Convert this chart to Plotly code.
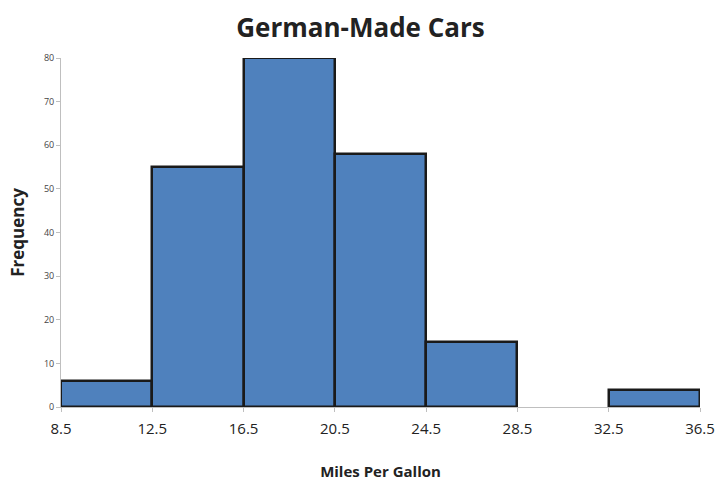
import plotly.graph_objects as go

bin_edges = [8.5, 12.5, 16.5, 20.5, 24.5, 28.5, 32.5, 36.5]
frequencies = [6, 55, 80, 58, 15, 0, 4]
tick_labels = ["8.5", "12.5", "16.5", "20.5", "24.5", "28.5", "32.5", "36.5"]

centers = [(bin_edges[i] + bin_edges[i + 1]) / 2 for i in range(len(frequencies))]
widths = [bin_edges[i + 1] - bin_edges[i] for i in range(len(frequencies))]
line_widths = [2.5 if f > 0 else 0 for f in frequencies]

fig = go.Figure(go.Bar(
    x=centers, y=frequencies, width=widths,
    marker=dict(color="#4F81BD", line=dict(color="#1a1a1a", width=line_widths)),
))

fig.update_layout(
    width=721, height=481,
    margin=dict(l=61, r=21, t=58, b=74),
    plot_bgcolor="white", paper_bgcolor="white",
    showlegend=False,
    font=dict(family="Open Sans, Lato, sans-serif", color="#222"),
    title=dict(text="<b>German-Made Cars</b>", x=0.5, xanchor="center",
               y=0.942, yanchor="middle", font=dict(size=26, color="#222")),
    bargap=0,
    xaxis=dict(range=[8.5, 36.5], tickvals=bin_edges, ticktext=tick_labels,
               automargin=False,
               showgrid=False, zeroline=False, showline=True, linecolor="#BFBFBF",
               linewidth=1, ticks="outside", ticklen=4, tickcolor="#BFBFBF",
               ticklabelstandoff=4,
               tickfont=dict(size=15, color="#222"),
               title=dict(text="<b>Miles Per Gallon</b>", font=dict(size=15, color="#222"),
                          standoff=38)),
    yaxis=dict(range=[0, 80], dtick=10, showgrid=False, zeroline=False,
               automargin=False,
               showline=True, linecolor="#BFBFBF", linewidth=1,
               ticks="outside", ticklen=4, tickcolor="#BFBFBF",
               tickfont=dict(size=9, color="#444"),
               title=dict(text="<b>Frequency</b>", font=dict(size=17, color="#222"),
                          standoff=14)),
)

fig.write_html("out.html")
